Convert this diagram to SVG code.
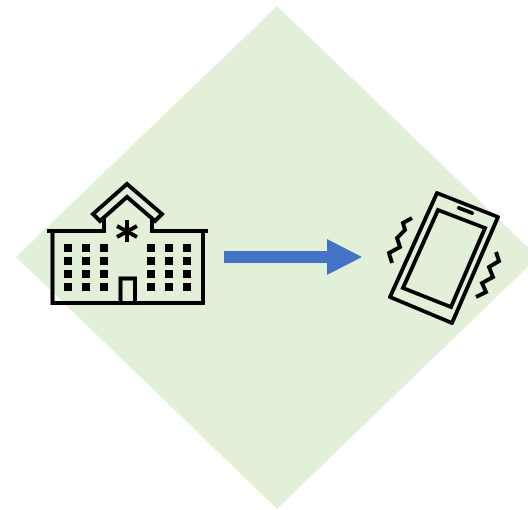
<svg xmlns="http://www.w3.org/2000/svg" width="528" height="510" viewBox="0 0 528 510">
<style>
.l{fill:none;stroke:#000;stroke-width:4;stroke-linejoin:miter}
.r{stroke-linejoin:round;stroke-linecap:round}
.w{fill:#000}
</style>
<rect width="528" height="510" fill="#fff"/>
<polygon id="diamond" points="277,6 538,257 277,509 16,257" fill="#E2F0D9"/>
<g id="hospital">
<path class="l" d="M47 231H104V219M152 219V231H208M52.500 231V303H203V231"/>
<path class="l" d="M127 184L162 214L155 221L127 197L100 221L93 214Z"/>
<path class="l" d="M120.500 303V278.500H135V303"/>
<path class="l" d="M127 220V242M117 226L137 237M137 226L117 237"/>
<g class="w">
<rect x="64" y="244" width="8" height="8"/><rect x="82" y="244" width="8" height="8"/><rect x="100" y="244" width="8" height="8"/>
<rect x="147" y="244" width="8" height="8"/><rect x="165" y="244" width="8" height="8"/><rect x="183" y="244" width="8" height="8"/>
<rect x="64" y="257" width="8" height="8"/><rect x="82" y="257" width="8" height="8"/><rect x="100" y="257" width="8" height="8"/>
<rect x="147" y="257" width="8" height="8"/><rect x="165" y="257" width="8" height="8"/><rect x="183" y="257" width="8" height="8"/>
<rect x="64" y="270" width="8" height="8"/><rect x="82" y="270" width="8" height="8"/><rect x="100" y="270" width="8" height="8"/>
<rect x="147" y="270" width="8" height="8"/><rect x="165" y="270" width="8" height="8"/><rect x="183" y="270" width="8" height="8"/>
<rect x="64" y="283" width="8" height="8"/><rect x="82" y="283" width="8" height="8"/><rect x="100" y="283" width="8" height="8"/>
<rect x="147" y="283" width="8" height="8"/><rect x="165" y="283" width="8" height="8"/><rect x="183" y="283" width="8" height="8"/>
</g>
</g>
<g id="connectors">
<polygon points="224,251 327,251 327,239 362,257 327,275 327,263 224,263" fill="#4472C4"/>
</g>
<g id="phone">
<path class="l r" d="M437 193L498 217L452 323L390 297Z"/>
<path class="l" d="M438 210L485 228L451 307L403 288Z"/>
<path class="l r" d="M459 208L472 213"/>
<path class="l" d="M412 218L403 223L405 230L397 238L400 247L389 253L392 263"/>
<path class="l" d="M496 252L499 261L489 267L493 277L482 283L486 292L476 297"/>
</g>
</svg>
